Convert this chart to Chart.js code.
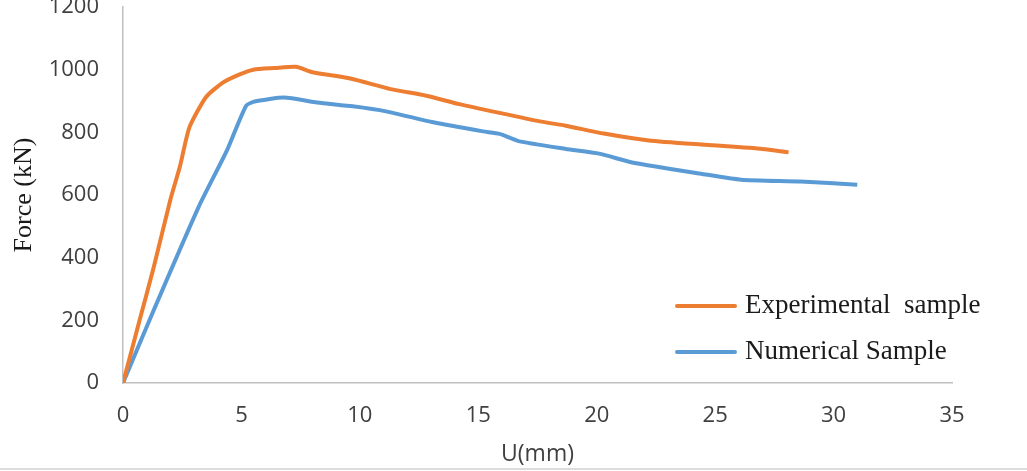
<!DOCTYPE html>
<html>
<head>
<meta charset="utf-8">
<script src="https://cdn.jsdelivr.net/npm/chart.js@4/dist/chart.umd.min.js"></script>
<style>
	html, body { margin: 0; padding: 0; background: #fff; }
	#wrap { width: 1027px; height: 471px; }
</style>
</head>
<body>
<div id="wrap"><canvas id="forceChart" width="1027" height="471"></canvas></div>
<script>
	// Данные кривых сила-перемещение
	const uExperimental = [0, 0.7, 1.3, 2.0, 2.4, 2.8, 3.5, 4.2, 4.9, 5.5, 6.4, 7.3, 8.0, 9.6, 11.3, 12.8, 14.2, 15.9, 17.6, 18.7, 20.3, 22.2, 24.6, 27.0, 28.1];
	const fExperimental = [0, 200, 370, 585, 690, 815, 912, 958, 984, 1000, 1005, 1009, 992, 972, 938, 917, 890, 862, 835, 821, 796, 774, 760, 747, 736];

	const uNumerical = [0, 1.3, 3.2, 4.4, 5.2, 5.6, 6.8, 8.2, 9.7, 11.1, 13.1, 15.2, 15.9, 16.7, 18.7, 20.1, 21.6, 24.4, 26.1, 28.6, 31.0];
	const fNumerical = [0, 233, 563, 744, 885, 899, 911, 895, 883, 867, 832, 803, 795, 772, 747, 732, 702, 668, 649, 643, 633];

	const seriesLabels = ['Experimental  sample', 'Numerical Sample'];
	const seriesColors = ['#ED7D31', '#5B9BD5'];

	const xTicks = [0, 5, 10, 15, 20, 25, 30, 35];
	const yTicks = [0, 200, 400, 600, 800, 1000, 1200];

	const toPoints = (xs, ys) => xs.map((x, i) => ({ x: x, y: ys[i] }));

	// Легенда внутри области графика + нижняя рамка картинки
	const insideLegend = {
		id: 'insideLegend',
		afterDraw(chart) {
			const ctx = chart.ctx;
			const area = chart.chartArea;
			ctx.save();
			chart.data.datasets.forEach((ds, i) => {
				const y = area.bottom - 77 + i * 46;
				const x0 = area.right - 275;
				ctx.strokeStyle = ds.borderColor;
				ctx.lineWidth = 4;
				ctx.lineCap = 'round';
				ctx.beginPath();
				ctx.moveTo(x0, y);
				ctx.lineTo(x0 + 58, y);
				ctx.stroke();
				ctx.fillStyle = '#1a1a1a';
				ctx.font = '27px "Liberation Serif", serif';
				ctx.textBaseline = 'middle';
				ctx.fillText(ds.label, x0 + 68, y);
			});
			ctx.strokeStyle = '#d0d0d0';
			ctx.lineWidth = 1.5;
			ctx.beginPath();
			ctx.moveTo(0, chart.height - 2);
			ctx.lineTo(chart.width, chart.height - 2);
			ctx.stroke();
			ctx.restore();
		}
	};

	const tickFont = { family: '"Open Sans", sans-serif', size: 22 };

	new Chart(document.getElementById('forceChart'), {
		type: 'line',
		data: {
			datasets: [
				{
					label: seriesLabels[0],
					data: toPoints(uExperimental, fExperimental),
					borderColor: seriesColors[0],
					borderWidth: 4,
					pointRadius: 0,
					tension: 0.2,
					fill: false
				},
				{
					label: seriesLabels[1],
					data: toPoints(uNumerical, fNumerical),
					borderColor: seriesColors[1],
					borderWidth: 4,
					pointRadius: 0,
					tension: 0.2,
					fill: false
				}
			]
		},
		options: {
			responsive: false,
			animation: false,
			layout: { padding: { top: 7, right: 75, left: 0, bottom: 0 } },
			plugins: {
				legend: { display: false },
				tooltip: { enabled: false }
			},
			scales: {
				x: {
					type: 'linear',
					min: 0,
					max: 35,
					afterBuildTicks: s => { s.ticks = xTicks.map(v => ({ value: v })); },
					afterFit: s => { s.height = 88; s.paddingLeft = 0; s.paddingRight = 0; },
					grid: { display: false, drawTicks: false },
					border: { display: true, color: '#bfbfbf', width: 1.5 },
					ticks: { color: '#404040', font: tickFont, padding: 20, maxRotation: 0, callback: v => String(v) },
					title: {
						display: true,
						text: 'U(mm)',
						color: '#404040',
						font: { family: '"Open Sans", sans-serif', size: 23 },
						padding: { top: 0, bottom: 3 }
					}
				},
				y: {
					min: 0,
					max: 1200,
					afterBuildTicks: s => { s.ticks = yTicks.map(v => ({ value: v })); },
					afterFit: s => { s.width = 123; s.paddingTop = 0; s.paddingBottom = 0; },
					grid: { display: false, drawTicks: false },
					border: { display: true, color: '#bfbfbf', width: 1.5 },
					ticks: { color: '#404040', font: tickFont, padding: 24, callback: v => String(v) },
					title: {
						display: true,
						text: 'Force (kN)',
						color: '#1a1a1a',
						font: { family: '"Liberation Serif", serif', size: 26 },
						padding: { top: 9, bottom: 0 }
					}
				}
			}
		},
		plugins: [insideLegend]
	});
</script>
</body>
</html>
